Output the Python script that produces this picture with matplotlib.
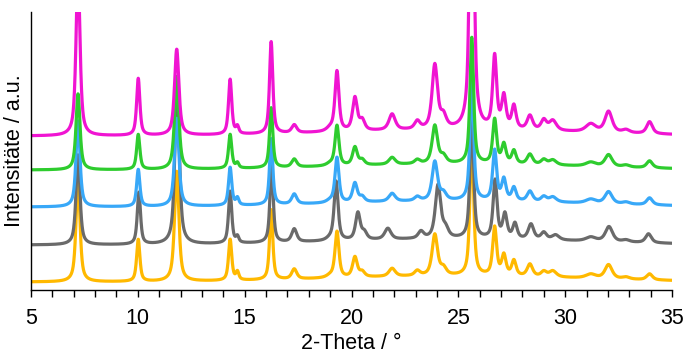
import numpy as np
import matplotlib
matplotlib.use("Agg")
import matplotlib.pyplot as plt

plt.rcParams['font.family'] = ['Liberation Sans', 'DejaVu Sans']

# ---- data (heights in arbitrary units) ----
two_theta_range = (5, 35)

peak_pos = [7.2, 10.02, 11.82, 14.32, 14.66, 16.24, 17.32, 19.0, 19.32, 20.16, 20.5,
            21.9, 23.08, 23.9, 24.3, 25.63, 26.7, 27.13, 27.6, 28.35, 29.0, 29.42,
            31.2, 32.03, 32.85, 33.95]
peak_fwhm = [0.22, 0.18, 0.24, 0.18, 0.16, 0.18, 0.28, 0.4, 0.22, 0.26, 0.28,
             0.35, 0.3, 0.3, 0.32, 0.2, 0.22, 0.24, 0.24, 0.3, 0.3, 0.4,
             0.55, 0.4, 0.4, 0.32]

gray_pos = [7.2, 10.05, 11.84, 14.32, 14.66, 16.26, 17.32, 19.0, 19.28, 20.3, 20.6,
            21.7, 23.25, 24.05, 24.4, 25.63, 26.72, 27.18, 27.65, 28.4, 29.0, 29.55,
            31.2, 32.05, 32.85, 33.9]

magenta_h = [165, 57, 86, 55, 7, 92, 8, 3, 60, 33, 10, 16, 8, 64, 12, 420, 72, 32, 23, 14, 10, 10, 8, 21, 3, 12]
green_h   = [76, 35, 92, 34, 5, 60, 8, 2, 40, 18, 5, 7, 4, 38, 7, 126, 44, 19, 13, 10, 5, 5, 4, 12, 2, 7]
blue_h    = [86, 37, 88, 38, 7, 66, 10, 2, 45, 19, 5, 8, 4, 39, 7, 123, 50, 21, 13, 10, 5, 5, 4, 12, 2, 7]
gray_h    = [90, 52, 168, 52, 6, 79, 13, 2, 59, 27, 7, 11, 7, 53, 9, 123, 58, 24, 15, 15, 7, 5, 4, 15, 2, 9]
orange_h  = [104, 42, 110, 41, 8, 70, 10, 2, 46, 20, 5, 8, 5, 41, 7, 140, 48, 20, 15, 12, 5, 6, 4, 14, 2, 6]

baselines = {'orange': 8, 'gray': 45, 'blue': 83, 'green': 120, 'magenta': 154}
hump_amp = 6
colors = {'orange': '#ffb900', 'gray': '#6a6a6a', 'blue': '#38a8f8',
          'green': '#2ecc2e', 'magenta': '#f014d2'}

series = [('orange', peak_pos, orange_h), ('gray', gray_pos, gray_h),
          ('blue', peak_pos, blue_h), ('green', peak_pos, green_h),
          ('magenta', peak_pos, magenta_h)]


def profile(x, pos, hts, fwhm, eta=0.7):
    y = np.zeros_like(x)
    for p, h, w in zip(pos, hts, fwhm):
        lor = 1.0 / (1.0 + (2 * (x - p) / w) ** 2)
        gau = np.exp(-4 * np.log(2) * ((x - p) / w) ** 2)
        y += h * (eta * lor + (1 - eta) * gau)
    return y


x = np.linspace(two_theta_range[0], two_theta_range[1], 4001)

fig = plt.figure(figsize=(6.86, 3.58), dpi=100)
ax = fig.add_axes([31 / 686, 1 - 290 / 358, (672 - 31) / 686, (290 - 12) / 358])

for name, pos, hts in series:
    y = baselines[name] + hump_amp * np.exp(-((x - 25) ** 2) / (2 * 6 ** 2)) \
        + profile(x, pos, hts, peak_fwhm)
    ax.plot(x, y, color=colors[name], lw=2.3, solid_joinstyle='round')

ax.set_xlim(*two_theta_range)
ax.set_ylim(0, 278)
ax.set_xticks(np.arange(5, 36, 5))
ax.set_xticks(np.arange(5, 36, 1), minor=True)
ax.set_yticks([])
for s in ['top', 'right']:
    ax.spines[s].set_visible(False)
ax.spines['left'].set_linewidth(1.0)
ax.spines['bottom'].set_linewidth(1.0)
ax.tick_params(axis='x', which='both', direction='out', length=5, width=1.0,
               labelsize=15.5, pad=8)
ax.set_xlabel('2-Theta / °', fontsize=15.5, labelpad=3)
ax.set_ylabel('Intensitäte / a.u.', fontsize=15.5, labelpad=4)

fig.savefig('out.png', dpi=100)
